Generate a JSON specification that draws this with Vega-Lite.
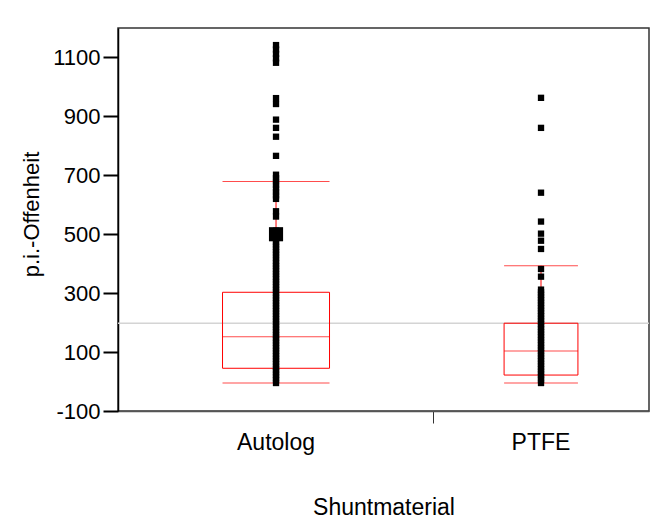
{
  "$schema": "https://vega.github.io/schema/vega-lite/v6.json",
  "width": 531,
  "height": 383,
  "autosize": {"type": "none"},
  "padding": {"left": 118, "top": 28, "right": 6, "bottom": 117},
  "background": "white",
  "config": {
    "font": "Liberation Sans",
    "view": {"stroke": "#333", "strokeWidth": 1.5},
    "axis": {"labelFont": "Liberation Sans", "titleFont": "Liberation Sans", "labelColor": "#000", "titleColor": "#000", "grid": false, "titleFontWeight": "normal"}
  },
  "datasets": {
    "overall": [{"grand_mean": 198}],
    "stats": [
      {"group": "Autolog", "lo": -5, "q1": 45, "med": 152, "q3": 303, "hi": 679, "n": 355},
      {"group": "PTFE", "lo": -5, "q1": 22, "med": 104, "q3": 198, "hi": 393, "n": 245}
    ],
    "points": [
      {"group": "Autolog", "value": 1142}, {"group": "Autolog", "value": 1127}, {"group": "Autolog", "value": 1112},
      {"group": "Autolog", "value": 1097}, {"group": "Autolog", "value": 1082}, {"group": "Autolog", "value": 962},
      {"group": "Autolog", "value": 942}, {"group": "Autolog", "value": 889}, {"group": "Autolog", "value": 861},
      {"group": "Autolog", "value": 831}, {"group": "Autolog", "value": 766}, {"group": "Autolog", "value": 702},
      {"group": "Autolog", "value": 690}, {"group": "Autolog", "value": 679}, {"group": "Autolog", "value": 667},
      {"group": "Autolog", "value": 655}, {"group": "Autolog", "value": 643}, {"group": "Autolog", "value": 632},
      {"group": "Autolog", "value": 620}, {"group": "Autolog", "value": 578}, {"group": "Autolog", "value": 560},
      {"group": "Autolog", "value": 512}, {"group": "Autolog", "value": 500, "n": 6}, {"group": "Autolog", "value": 488},
      {"group": "Autolog", "value": 475}, {"group": "Autolog", "value": 466}, {"group": "Autolog", "value": 457},
      {"group": "Autolog", "value": 448}, {"group": "Autolog", "value": 439}, {"group": "Autolog", "value": 430},
      {"group": "Autolog", "value": 420}, {"group": "Autolog", "value": 410}, {"group": "Autolog", "value": 401},
      {"group": "Autolog", "value": 392}, {"group": "Autolog", "value": 383}, {"group": "Autolog", "value": 374},
      {"group": "Autolog", "value": 365}, {"group": "Autolog", "value": 356}, {"group": "Autolog", "value": 347},
      {"group": "Autolog", "value": 338}, {"group": "Autolog", "value": 329}, {"group": "Autolog", "value": 320},
      {"group": "Autolog", "value": 311}, {"group": "Autolog", "value": 302}, {"group": "Autolog", "value": 293},
      {"group": "Autolog", "value": 284}, {"group": "Autolog", "value": 275}, {"group": "Autolog", "value": 266},
      {"group": "Autolog", "value": 257}, {"group": "Autolog", "value": 248}, {"group": "Autolog", "value": 239},
      {"group": "Autolog", "value": 230}, {"group": "Autolog", "value": 221}, {"group": "Autolog", "value": 212},
      {"group": "Autolog", "value": 203}, {"group": "Autolog", "value": 194}, {"group": "Autolog", "value": 185},
      {"group": "Autolog", "value": 176}, {"group": "Autolog", "value": 167}, {"group": "Autolog", "value": 158},
      {"group": "Autolog", "value": 149}, {"group": "Autolog", "value": 140}, {"group": "Autolog", "value": 131},
      {"group": "Autolog", "value": 122}, {"group": "Autolog", "value": 113}, {"group": "Autolog", "value": 104},
      {"group": "Autolog", "value": 95}, {"group": "Autolog", "value": 86}, {"group": "Autolog", "value": 77},
      {"group": "Autolog", "value": 68}, {"group": "Autolog", "value": 59}, {"group": "Autolog", "value": 50},
      {"group": "Autolog", "value": 41}, {"group": "Autolog", "value": 32}, {"group": "Autolog", "value": 23},
      {"group": "Autolog", "value": 14}, {"group": "Autolog", "value": 5}, {"group": "Autolog", "value": -5},
      {"group": "PTFE", "value": 963}, {"group": "PTFE", "value": 861}, {"group": "PTFE", "value": 641},
      {"group": "PTFE", "value": 543}, {"group": "PTFE", "value": 502}, {"group": "PTFE", "value": 478},
      {"group": "PTFE", "value": 450}, {"group": "PTFE", "value": 382}, {"group": "PTFE", "value": 356},
      {"group": "PTFE", "value": 312}, {"group": "PTFE", "value": 303}, {"group": "PTFE", "value": 294},
      {"group": "PTFE", "value": 285}, {"group": "PTFE", "value": 276}, {"group": "PTFE", "value": 267},
      {"group": "PTFE", "value": 258}, {"group": "PTFE", "value": 249}, {"group": "PTFE", "value": 240},
      {"group": "PTFE", "value": 231}, {"group": "PTFE", "value": 222}, {"group": "PTFE", "value": 213},
      {"group": "PTFE", "value": 204}, {"group": "PTFE", "value": 195}, {"group": "PTFE", "value": 186},
      {"group": "PTFE", "value": 177}, {"group": "PTFE", "value": 168}, {"group": "PTFE", "value": 159},
      {"group": "PTFE", "value": 150}, {"group": "PTFE", "value": 141}, {"group": "PTFE", "value": 132},
      {"group": "PTFE", "value": 123}, {"group": "PTFE", "value": 114}, {"group": "PTFE", "value": 105},
      {"group": "PTFE", "value": 96}, {"group": "PTFE", "value": 87}, {"group": "PTFE", "value": 78},
      {"group": "PTFE", "value": 69}, {"group": "PTFE", "value": 60}, {"group": "PTFE", "value": 51},
      {"group": "PTFE", "value": 42}, {"group": "PTFE", "value": 33}, {"group": "PTFE", "value": 24},
      {"group": "PTFE", "value": 15}, {"group": "PTFE", "value": 6}, {"group": "PTFE", "value": -5}
    ]
  },
  "encoding": {
    "x": {"field": "group", "type": "nominal",
          "scale": {"type": "band", "paddingInner": 0.185, "paddingOuter": 0.0944, "align": 1},
          "axis": {"title": "Shuntmaterial", "orient": "bottom", "bandPosition": 0,
                   "tickSize": 12, "tickColor": "#333", "tickWidth": 1,
                   "tickOpacity": {"condition": {"test": "datum.value == 'PTFE'", "value": 1}, "value": 0},
                   "domainColor": "#555", "domainWidth": 1.5, "labelFontSize": 23, "labelPadding": 8, "labelAngle": 0,
                   "titleFontSize": 23, "titlePadding": 42}}
  },
  "layer": [
    {
      "data": {"name": "overall"},
      "mark": {"type": "rule", "color": "#d4d4d4", "strokeWidth": 1.5},
      "encoding": {
        "x": null,
        "y": {"field": "grand_mean", "type": "quantitative",
              "scale": {"domain": [-100, 1200], "nice": false, "zero": false},
              "axis": {"title": "p.i.-Offenheit", "orient": "left", "values": [-100, 0, 100, 200, 300, 400, 500, 600, 700, 800, 900, 1000, 1100, 1200],
                       "labelExpr": "datum.value % 200 == 0 ? '' : '' + datum.value", "labelOverlap": false, "tickSize": 15, "tickWidth": 2, "tickColor": "#000",
                       "domainColor": "#000", "domainWidth": 1.5, "labelFontSize": 22, "labelPadding": 3, "titleFontSize": 22, "titlePadding": 9, "titleY": 186}}
      }
    },
    {
      "data": {"name": "stats"},
      "mark": {"type": "bar", "filled": false, "color": "#ff0000", "strokeWidth": 1},
      "encoding": {
        "y": {"field": "q1", "type": "quantitative"},
        "y2": {"field": "q3"},
        "size": {"field": "n", "type": "quantitative", "legend": null, "scale": {"domain": [0, 355], "range": [0, 107], "zero": true}}
      }
    },
    {
      "data": {"name": "stats"},
      "transform": [{"fold": ["lo", "med", "hi"], "as": ["stat", "v"]}],
      "mark": {"type": "tick", "color": "#ff0000", "thickness": 1, "orient": "horizontal"},
      "encoding": {
        "y": {"field": "v", "type": "quantitative"},
        "size": {"field": "n", "type": "quantitative", "legend": null, "scale": {"domain": [0, 355], "range": [0, 107], "zero": true}}
      }
    },
    {
      "data": {"name": "stats"},
      "mark": {"type": "rule", "color": "#ff0000", "strokeWidth": 1},
      "encoding": {
        "y": {"field": "lo", "type": "quantitative"},
        "y2": {"field": "hi"}
      }
    },
    {
      "data": {"name": "points"},
      "mark": {"type": "point", "shape": "square", "filled": true, "color": "#000", "opacity": 1},
      "encoding": {
        "y": {"field": "value", "type": "quantitative"},
        "size": {"condition": {"test": "datum.n > 1", "value": 200}, "value": 40}
      }
    }
  ],
  "resolve": {"scale": {"size": "independent"}}
}
